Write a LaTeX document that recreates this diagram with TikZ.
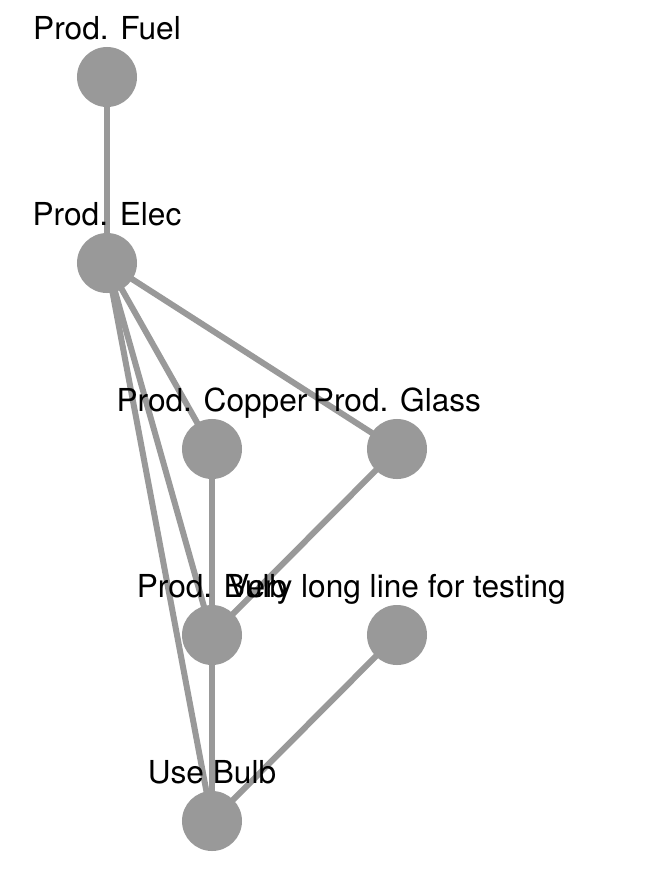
\documentclass[tikz,border=0pt]{standalone}
\usepackage{fontspec}
\setmainfont{TeX Gyre Heros}
\definecolor{nodegray}{HTML}{999999}

\begin{document}
\begin{tikzpicture}[x=0.025cm,y=-0.025cm,
  every node/.style={outer sep=0pt},
  task/.style={circle, fill=nodegray, minimum size=1.5cm, inner sep=0pt},
  tasklabel/.style={anchor=base, font=\fontsize{22.5}{27}\selectfont, inner sep=0pt},
  link/.style={draw=nodegray, line width=0.15cm}]

\useasboundingbox (0,0) rectangle (647,869);

\node[task] (fuel)   at (107,77)  {};
\node[task] (elec)   at (107,263) {};
\node[task] (copper) at (212,449) {};
\node[task] (glass)  at (397,449) {};
\node[task] (bulb)   at (212,635) {};
\node[task] (long)   at (397,635) {};
\node[task] (use)    at (212,821) {};

\draw[link] (fuel.center) -- (elec.center);
\draw[link] (elec.center) -- (copper.center);
\draw[link] (elec.center) -- (glass.center);
\draw[link] (elec.center) -- (bulb.center);
\draw[link] (elec.center) -- (use.center);
\draw[link] (copper.center) -- (bulb.center);
\draw[link] (glass.center) -- (bulb.center);
\draw[link] (bulb.center) -- (use.center);
\draw[link] (long.center) -- (use.center);

\node[tasklabel] (fuel-t)   at (107,39)  {Prod. Fuel};
\node[tasklabel] (elec-t)   at (107,225) {Prod. Elec};
\node[tasklabel] (copper-t) at (212,411) {Prod. Copper};
\node[tasklabel] (glass-t)  at (397,411) {Prod. Glass};
\node[tasklabel] (bulb-t)   at (212,597) {Prod. Bulb};
\node[tasklabel] (long-t)   at (397,597) {Very long line for testing};
\node[tasklabel] (use-t)    at (212,783) {Use Bulb};
\end{tikzpicture}
\end{document}
